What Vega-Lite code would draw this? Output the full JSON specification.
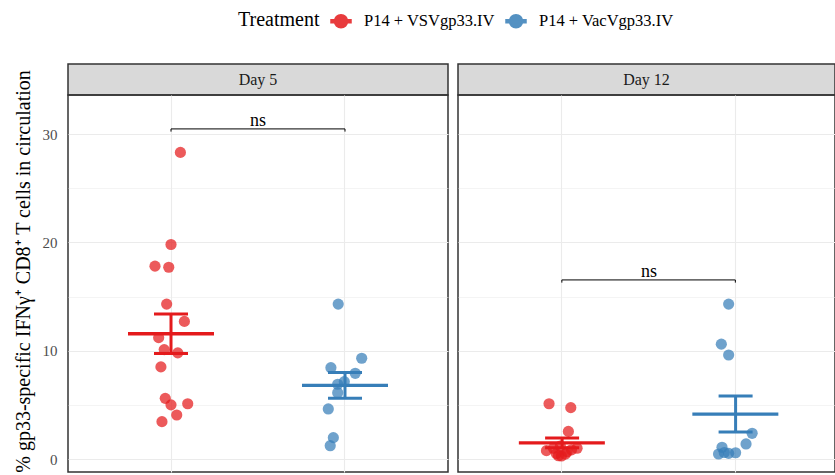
{
  "$schema": "https://vega.github.io/schema/vega-lite/v6.json",
  "padding": {"left": 12, "top": 10, "right": 0, "bottom": 0},
  "config": {
    "font": "Liberation Serif",
    "view": {"stroke": "#333333", "strokeWidth": 1.5},
    "tick": {"bandSize": 34, "opacity": 1},
    "axis": {"labelFont": "Liberation Serif", "titleFont": "Liberation Serif"},
    "legend": {"labelFont": "Liberation Serif", "titleFont": "Liberation Serif"}
  },
  "datasets": {
    "obs": [
      {"Day": "Day 5", "Treatment": "P14 + VSVgp33.IV", "pct": 28.3, "jitter": 0.054},
      {"Day": "Day 5", "Treatment": "P14 + VSVgp33.IV", "pct": 19.8, "jitter": 0.0},
      {"Day": "Day 5", "Treatment": "P14 + VSVgp33.IV", "pct": 17.8, "jitter": -0.092},
      {"Day": "Day 5", "Treatment": "P14 + VSVgp33.IV", "pct": 17.7, "jitter": -0.013},
      {"Day": "Day 5", "Treatment": "P14 + VSVgp33.IV", "pct": 14.3, "jitter": -0.025},
      {"Day": "Day 5", "Treatment": "P14 + VSVgp33.IV", "pct": 12.7, "jitter": 0.077},
      {"Day": "Day 5", "Treatment": "P14 + VSVgp33.IV", "pct": 11.2, "jitter": -0.071},
      {"Day": "Day 5", "Treatment": "P14 + VSVgp33.IV", "pct": 10.1, "jitter": -0.039},
      {"Day": "Day 5", "Treatment": "P14 + VSVgp33.IV", "pct": 9.8, "jitter": 0.039},
      {"Day": "Day 5", "Treatment": "P14 + VSVgp33.IV", "pct": 8.5, "jitter": -0.058},
      {"Day": "Day 5", "Treatment": "P14 + VSVgp33.IV", "pct": 5.6, "jitter": -0.033},
      {"Day": "Day 5", "Treatment": "P14 + VSVgp33.IV", "pct": 5.0, "jitter": 0.0},
      {"Day": "Day 5", "Treatment": "P14 + VSVgp33.IV", "pct": 5.1, "jitter": 0.096},
      {"Day": "Day 5", "Treatment": "P14 + VSVgp33.IV", "pct": 4.06, "jitter": 0.033},
      {"Day": "Day 5", "Treatment": "P14 + VSVgp33.IV", "pct": 3.45, "jitter": -0.052},
      {"Day": "Day 5", "Treatment": "P14 + VacVgp33.IV", "pct": 14.3, "jitter": -0.039},
      {"Day": "Day 5", "Treatment": "P14 + VacVgp33.IV", "pct": 9.3, "jitter": 0.096},
      {"Day": "Day 5", "Treatment": "P14 + VacVgp33.IV", "pct": 8.43, "jitter": -0.081},
      {"Day": "Day 5", "Treatment": "P14 + VacVgp33.IV", "pct": 7.91, "jitter": 0.059},
      {"Day": "Day 5", "Treatment": "P14 + VacVgp33.IV", "pct": 7.14, "jitter": -0.004},
      {"Day": "Day 5", "Treatment": "P14 + VacVgp33.IV", "pct": 6.9, "jitter": -0.042},
      {"Day": "Day 5", "Treatment": "P14 + VacVgp33.IV", "pct": 6.12, "jitter": -0.042},
      {"Day": "Day 5", "Treatment": "P14 + VacVgp33.IV", "pct": 4.62, "jitter": -0.096},
      {"Day": "Day 5", "Treatment": "P14 + VacVgp33.IV", "pct": 1.97, "jitter": -0.067},
      {"Day": "Day 5", "Treatment": "P14 + VacVgp33.IV", "pct": 1.23, "jitter": -0.085},
      {"Day": "Day 12", "Treatment": "P14 + VSVgp33.IV", "pct": 5.1, "jitter": -0.075},
      {"Day": "Day 12", "Treatment": "P14 + VSVgp33.IV", "pct": 4.74, "jitter": 0.05},
      {"Day": "Day 12", "Treatment": "P14 + VSVgp33.IV", "pct": 2.55, "jitter": 0.036},
      {"Day": "Day 12", "Treatment": "P14 + VSVgp33.IV", "pct": 0.77, "jitter": -0.09},
      {"Day": "Day 12", "Treatment": "P14 + VSVgp33.IV", "pct": 0.99, "jitter": -0.05},
      {"Day": "Day 12", "Treatment": "P14 + VSVgp33.IV", "pct": 0.28, "jitter": -0.004},
      {"Day": "Day 12", "Treatment": "P14 + VSVgp33.IV", "pct": 0.99, "jitter": 0.086},
      {"Day": "Day 12", "Treatment": "P14 + VSVgp33.IV", "pct": 0.67, "jitter": 0.029},
      {"Day": "Day 12", "Treatment": "P14 + VSVgp33.IV", "pct": 0.5, "jitter": -0.033},
      {"Day": "Day 12", "Treatment": "P14 + VSVgp33.IV", "pct": 1.2, "jitter": -0.01},
      {"Day": "Day 12", "Treatment": "P14 + VSVgp33.IV", "pct": 0.85, "jitter": 0.054},
      {"Day": "Day 12", "Treatment": "P14 + VSVgp33.IV", "pct": 0.45, "jitter": 0.019},
      {"Day": "Day 12", "Treatment": "P14 + VSVgp33.IV", "pct": 0.3, "jitter": -0.021},
      {"Day": "Day 12", "Treatment": "P14 + VacVgp33.IV", "pct": 14.3, "jitter": -0.04},
      {"Day": "Day 12", "Treatment": "P14 + VacVgp33.IV", "pct": 10.6, "jitter": -0.082},
      {"Day": "Day 12", "Treatment": "P14 + VacVgp33.IV", "pct": 9.6, "jitter": -0.04},
      {"Day": "Day 12", "Treatment": "P14 + VacVgp33.IV", "pct": 2.37, "jitter": 0.095},
      {"Day": "Day 12", "Treatment": "P14 + VacVgp33.IV", "pct": 1.39, "jitter": 0.06},
      {"Day": "Day 12", "Treatment": "P14 + VacVgp33.IV", "pct": 0.58, "jitter": 0.0},
      {"Day": "Day 12", "Treatment": "P14 + VacVgp33.IV", "pct": 1.08, "jitter": -0.078},
      {"Day": "Day 12", "Treatment": "P14 + VacVgp33.IV", "pct": 0.46, "jitter": -0.098},
      {"Day": "Day 12", "Treatment": "P14 + VacVgp33.IV", "pct": 0.52, "jitter": -0.04},
      {"Day": "Day 12", "Treatment": "P14 + VacVgp33.IV", "pct": 0.6, "jitter": -0.065}
    ],
    "brackets": [
      {"Day": "Day 5", "g1": "P14 + VSVgp33.IV", "g2": "P14 + VacVgp33.IV", "y": 30.47, "tip": 30.22, "label": "ns"},
      {"Day": "Day 12", "g1": "P14 + VSVgp33.IV", "g2": "P14 + VacVgp33.IV", "y": 16.53, "tip": 16.28, "label": "ns"}
    ]
  },
  "hconcat": [
    {
      "spacing": 0,
      "bounds": "flush",
      "vconcat": [
        {
          "width": 380,
          "height": 31,
          "view": {"fill": "#D9D9D9", "stroke": "#333333", "strokeWidth": 1.5},
          "data": {"values": [{"Day": "Day 5"}]},
          "mark": {"type": "text", "fontSize": 16, "color": "#1A1A1A", "font": "Liberation Serif"},
          "encoding": {"text": {"field": "Day"}}
        },
        {
          "width": 380,
          "height": 377,
          "resolve": {"axis": {"y": "independent"}},
          "layer": [
            {
              "layer": [
                {
                  "data": {"name": "obs"},
                  "transform": [{"filter": "datum.Day === 'Day 5'"}],
                  "mark": {"type": "circle", "size": 125, "opacity": 0.72},
                  "encoding": {
                    "x": {"field": "Treatment", "type": "nominal", "title": null,
                          "scale": {"type": "band", "domain": ["P14 + VSVgp33.IV", "P14 + VacVgp33.IV"], "paddingInner": 0, "paddingOuter": 0.092, "align": 0.5},
                          "axis": {"orient": "bottom", "title": null, "labels": false, "ticks": false, "domain": false, "grid": true, "bandPosition": 0.5, "gridColor": "#EBEBEB", "gridWidth": 1.1}},
                    "xOffset": {"field": "jitter", "type": "quantitative", "scale": {"domain": [-0.5, 0.5], "nice": false}},
                    "y": {"field": "pct", "type": "quantitative",
                          "scale": {"domain": [-1.2, 33.6], "nice": false, "zero": false},
                          "axis": {"orient": "left", "title": "% gp33-specific IFNγ⁺ CD8⁺ T cells in circulation", "values": [0, 10, 20, 30], "ticks": false, "domain": false, "grid": true, "gridColor": "#EBEBEB", "gridWidth": 1.1, "labelColor": "#4D4D4D", "labelFontSize": 15, "labelPadding": 11, "titleFontSize": 20, "titleFontWeight": "normal", "titleColor": "#000000", "titlePadding": 9, "titleY": 176}},
                    "color": {"field": "Treatment", "type": "nominal",
                              "scale": {"domain": ["P14 + VSVgp33.IV", "P14 + VacVgp33.IV"], "range": ["#E41A1C", "#377EB8"]},
                              "legend": {"orient": "none", "legendX": 170, "legendY": -54, "direction": "horizontal", "title": "Treatment", "titleOrient": "left", "titleFontSize": 20, "titleFontWeight": "normal", "titleColor": "#000000", "labelFontSize": 16.5, "labelColor": "#000000", "symbolType": "M-1,-0.16H1V0.16H-1Z M0.65,0A0.65,0.65,0,1,1,-0.65,0A0.65,0.65,0,1,1,0.65,0Z", "symbolSize": 400, "symbolOpacity": 0.85, "columnPadding": 8, "titlePadding": 10, "labelOffset": 12}}
                  }
                }
              ]
            },
            {
              "layer": [
                {
                  "data": {"name": "obs"},
                  "transform": [{"filter": "datum.Day === 'Day 5'"}],
                  "mark": {"type": "errorbar", "extent": "stderr", "thickness": 3, "size": 34, "ticks": true},
                  "encoding": {
                    "x": {"field": "Treatment", "type": "nominal", "title": null},
                    "xOffset": {"datum": 0, "type": "quantitative"},
                    "y": {"field": "pct", "type": "quantitative", "title": null,
                          "axis": {"orient": "right", "title": null, "labels": false, "ticks": false, "domain": false, "grid": true, "values": [5, 15, 25], "gridColor": "#EBEBEB", "gridWidth": 0.55}},
                    "color": {"field": "Treatment", "type": "nominal", "legend": null}
                  }
                },
                {
                  "data": {"name": "obs"},
                  "transform": [{"filter": "datum.Day === 'Day 5'"}],
                  "mark": {"type": "tick", "thickness": 3.3, "size": 86, "opacity": 1},
                  "encoding": {
                    "x": {"field": "Treatment", "type": "nominal", "title": null},
                    "y": {"aggregate": "mean", "field": "pct", "type": "quantitative", "title": null},
                    "color": {"field": "Treatment", "type": "nominal", "legend": null}
                  }
                },
                {
                  "data": {"name": "brackets"},
                  "transform": [{"filter": "datum.Day === 'Day 5'"}],
                  "mark": {"type": "rule", "color": "#000000", "strokeWidth": 1},
                  "encoding": {
                    "x": {"field": "g1", "type": "nominal", "title": null},
                    "x2": {"field": "g2"},
                    "y": {"field": "y", "type": "quantitative", "title": null}
                  }
                },
                {
                  "data": {"name": "brackets"},
                  "transform": [{"filter": "datum.Day === 'Day 5'"}],
                  "mark": {"type": "rule", "color": "#000000", "strokeWidth": 1},
                  "encoding": {
                    "x": {"field": "g1", "type": "nominal", "title": null},
                    "y": {"field": "y", "type": "quantitative", "title": null},
                    "y2": {"field": "tip"}
                  }
                },
                {
                  "data": {"name": "brackets"},
                  "transform": [{"filter": "datum.Day === 'Day 5'"}],
                  "mark": {"type": "rule", "color": "#000000", "strokeWidth": 1},
                  "encoding": {
                    "x": {"field": "g2", "type": "nominal", "title": null},
                    "y": {"field": "y", "type": "quantitative", "title": null},
                    "y2": {"field": "tip"}
                  }
                },
                {
                  "data": {"name": "brackets"},
                  "transform": [{"filter": "datum.Day === 'Day 5'"}],
                  "mark": {"type": "text", "fontSize": 18, "baseline": "alphabetic", "dy": -3, "color": "#000000"},
                  "encoding": {
                    "x": {"field": "g1", "type": "nominal", "title": null},
                    "xOffset": {"datum": 0.5, "type": "quantitative"},
                    "y": {"field": "y", "type": "quantitative", "title": null},
                    "text": {"field": "label"}
                  }
                }
              ]
            }
          ]
        }
      ]
    },
    {
      "spacing": 0,
      "bounds": "flush",
      "vconcat": [
        {
          "width": 377,
          "height": 31,
          "view": {"fill": "#D9D9D9", "stroke": "#333333", "strokeWidth": 1.5},
          "data": {"values": [{"Day": "Day 12"}]},
          "mark": {"type": "text", "fontSize": 16, "color": "#1A1A1A", "font": "Liberation Serif"},
          "encoding": {"text": {"field": "Day"}}
        },
        {
          "width": 377,
          "height": 377,
          "resolve": {"axis": {"y": "independent"}},
          "layer": [
            {
              "layer": [
                {
                  "data": {"name": "obs"},
                  "transform": [{"filter": "datum.Day === 'Day 12'"}],
                  "mark": {"type": "circle", "size": 125, "opacity": 0.72},
                  "encoding": {
                    "x": {"field": "Treatment", "type": "nominal", "title": null,
                          "scale": {"type": "band", "domain": ["P14 + VSVgp33.IV", "P14 + VacVgp33.IV"], "paddingInner": 0, "paddingOuter": 0.0865, "align": 0.57},
                          "axis": {"orient": "bottom", "title": null, "labels": false, "ticks": false, "domain": false, "grid": true, "bandPosition": 0.5, "gridColor": "#EBEBEB", "gridWidth": 1.1}},
                    "xOffset": {"field": "jitter", "type": "quantitative", "scale": {"domain": [-0.5, 0.5], "nice": false}},
                    "y": {"field": "pct", "type": "quantitative",
                          "scale": {"domain": [-1.2, 33.6], "nice": false, "zero": false},
                          "axis": {"orient": "left", "title": null, "values": [0, 10, 20, 30], "labels": false, "ticks": false, "domain": false, "grid": true, "gridColor": "#EBEBEB", "gridWidth": 1.1}},
                    "color": {"field": "Treatment", "type": "nominal", "legend": null}
                  }
                }
              ]
            },
            {
              "layer": [
                {
                  "data": {"name": "obs"},
                  "transform": [{"filter": "datum.Day === 'Day 12'"}],
                  "mark": {"type": "errorbar", "extent": "stderr", "thickness": 3, "size": 34, "ticks": true},
                  "encoding": {
                    "x": {"field": "Treatment", "type": "nominal", "title": null},
                    "xOffset": {"datum": 0, "type": "quantitative"},
                    "y": {"field": "pct", "type": "quantitative", "title": null,
                          "axis": {"orient": "right", "title": null, "labels": false, "ticks": false, "domain": false, "grid": true, "values": [5, 15, 25], "gridColor": "#EBEBEB", "gridWidth": 0.55}},
                    "color": {"field": "Treatment", "type": "nominal", "legend": null}
                  }
                },
                {
                  "data": {"name": "obs"},
                  "transform": [{"filter": "datum.Day === 'Day 12'"}],
                  "mark": {"type": "tick", "thickness": 3.3, "size": 86, "opacity": 1},
                  "encoding": {
                    "x": {"field": "Treatment", "type": "nominal", "title": null},
                    "y": {"aggregate": "mean", "field": "pct", "type": "quantitative", "title": null},
                    "color": {"field": "Treatment", "type": "nominal", "legend": null}
                  }
                },
                {
                  "data": {"name": "brackets"},
                  "transform": [{"filter": "datum.Day === 'Day 12'"}],
                  "mark": {"type": "rule", "color": "#000000", "strokeWidth": 1},
                  "encoding": {
                    "x": {"field": "g1", "type": "nominal", "title": null},
                    "x2": {"field": "g2"},
                    "y": {"field": "y", "type": "quantitative", "title": null}
                  }
                },
                {
                  "data": {"name": "brackets"},
                  "transform": [{"filter": "datum.Day === 'Day 12'"}],
                  "mark": {"type": "rule", "color": "#000000", "strokeWidth": 1},
                  "encoding": {
                    "x": {"field": "g1", "type": "nominal", "title": null},
                    "y": {"field": "y", "type": "quantitative", "title": null},
                    "y2": {"field": "tip"}
                  }
                },
                {
                  "data": {"name": "brackets"},
                  "transform": [{"filter": "datum.Day === 'Day 12'"}],
                  "mark": {"type": "rule", "color": "#000000", "strokeWidth": 1},
                  "encoding": {
                    "x": {"field": "g2", "type": "nominal", "title": null},
                    "y": {"field": "y", "type": "quantitative", "title": null},
                    "y2": {"field": "tip"}
                  }
                },
                {
                  "data": {"name": "brackets"},
                  "transform": [{"filter": "datum.Day === 'Day 12'"}],
                  "mark": {"type": "text", "fontSize": 18, "baseline": "alphabetic", "dy": -3, "color": "#000000"},
                  "encoding": {
                    "x": {"field": "g1", "type": "nominal", "title": null},
                    "xOffset": {"datum": 0.5, "type": "quantitative"},
                    "y": {"field": "y", "type": "quantitative", "title": null},
                    "text": {"field": "label"}
                  }
                }
              ]
            }
          ]
        }
      ]
    }
  ],
  "spacing": 8
}
